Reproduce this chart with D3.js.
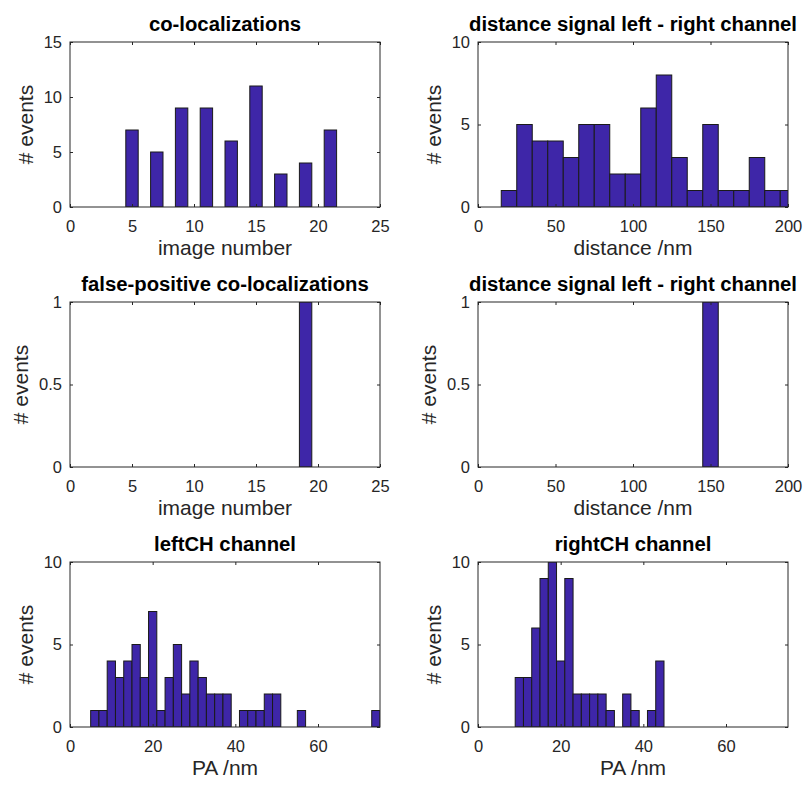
<!DOCTYPE html>
<html>
<head>
<meta charset="utf-8">
<script src="https://cdn.jsdelivr.net/npm/d3@7"></script>
<style>
	body { margin: 0; background: #fff; }
	svg { font-family: "Liberation Sans", Arial, Helvetica, sans-serif; }
	.tick text { fill: #262626; font-size: 16.5px; }
	.tick line { stroke: #262626; }
	.title { font-weight: bold; font-size: 20.3px; fill: #000; }
	.axisLabel { font-size: 21px; fill: #262626; }
</style>
</head>
<body>
<script>
(function(){

	//data
	var coloImages = [5, 7, 9, 11, 13, 15, 17, 19, 21];
	var coloCounts = [7, 5, 9, 9, 6, 11, 3, 4, 7];

	var distCenters = [20, 30, 40, 50, 60, 70, 80, 90, 100, 110, 120, 130, 140, 150, 160, 170, 180, 190, 200];
	var distCounts = [1, 5, 4, 4, 3, 5, 5, 2, 2, 6, 8, 3, 1, 5, 1, 1, 3, 1, 1];

	var fpImages = [19];
	var fpCounts = [1];

	var fpDistCenters = [150];
	var fpDistCounts = [1];

	var leftPACenters = [6, 8, 10, 12, 14, 16, 18, 20, 22, 24, 26, 28, 30, 32, 34, 36, 38, 40, 42, 44, 46, 48, 50, 52, 54, 56, 58, 60, 62, 64, 66, 68, 70, 72, 74];
	var leftPACounts = [1, 1, 4, 3, 4, 5, 3, 7, 1, 3, 5, 2, 4, 3, 2, 2, 2, 0, 1, 1, 1, 2, 2, 0, 0, 1, 0, 0, 0, 0, 0, 0, 0, 0, 1];

	var rightPACenters = [10, 12, 14, 16, 18, 20, 22, 24, 26, 28, 30, 32, 34, 36, 38, 40, 42, 44];
	var rightPACounts = [3, 3, 6, 9, 10, 4, 9, 2, 2, 2, 2, 1, 0, 2, 1, 0, 1, 4];

	//tick labels
	var imageTicks = [0, 5, 10, 15, 20, 25];
	var distTicks = [0, 50, 100, 150, 200];
	var paTicks = [0, 20, 40, 60];
	var countTicks15 = [0, 5, 10, 15];
	var countTicks10 = [0, 5, 10];
	var countTicks1 = [0, 0.5, 1];

	var barColor = "#3e26a8";
	var axisColor = "#262626";

	var panels = [
		{title: "co-localizations", xlabel: "image number", centers: coloImages, counts: coloCounts,
			binWidth: 1, xDomain: [0, 25], yDomain: [0, 15], xTicks: imageTicks, yTicks: countTicks15, col: 0, row: 0},
		{title: "distance signal left - right channel", xlabel: "distance /nm", centers: distCenters, counts: distCounts,
			binWidth: 10, xDomain: [0, 200], yDomain: [0, 10], xTicks: distTicks, yTicks: countTicks10, col: 1, row: 0},
		{title: "false-positive co-localizations", xlabel: "image number", centers: fpImages, counts: fpCounts,
			binWidth: 1, xDomain: [0, 25], yDomain: [0, 1], xTicks: imageTicks, yTicks: countTicks1, col: 0, row: 1},
		{title: "distance signal left - right channel", xlabel: "distance /nm", centers: fpDistCenters, counts: fpDistCounts,
			binWidth: 10, xDomain: [0, 200], yDomain: [0, 1], xTicks: distTicks, yTicks: countTicks1, col: 1, row: 1},
		{title: "leftCH channel", xlabel: "PA /nm", centers: leftPACenters, counts: leftPACounts,
			binWidth: 2, xDomain: [0, 75], yDomain: [0, 10], xTicks: paTicks, yTicks: countTicks10, col: 0, row: 2},
		{title: "rightCH channel", xlabel: "PA /nm", centers: rightPACenters, counts: rightPACounts,
			binWidth: 2, xDomain: [0, 75], yDomain: [0, 10], xTicks: paTicks, yTicks: countTicks10, col: 1, row: 2}
	];

	//axes frame layout
	var colLeft = [70, 478],
		rowTop = [42, 302, 562],
		axWidth = 310,
		axHeight = 165,
		tickLen = 3;

	var svg = d3.select("body")
		.append("svg")
		.attr("width", 804)
		.attr("height", 787);

	panels.forEach(function(p, i){
		drawPanel(p, i);
	});

	function drawPanel(p, i){
		var left = colLeft[p.col],
			top = rowTop[p.row];

		var g = svg.append("g")
			.attr("transform", "translate(" + left + "," + top + ")");

		var x = d3.scaleLinear().domain(p.xDomain).range([0, axWidth]);
		var y = d3.scaleLinear().domain(p.yDomain).range([axHeight, 0]);

		//clip bars to the axes box
		var clipId = "clip" + i;
		g.append("clipPath")
			.attr("id", clipId)
			.append("rect")
			.attr("width", axWidth)
			.attr("height", axHeight);

		var bins = p.centers.map(function(c, k){
			return {center: c, count: p.counts[k]};
		}).filter(function(d){ return d.count > 0; });

		g.append("g")
			.attr("clip-path", "url(#" + clipId + ")")
			.selectAll(".bar")
			.data(bins)
			.enter()
			.append("rect")
			.attr("class", "bar")
			.attr("x", function(d){ return x(d.center - p.binWidth / 2); })
			.attr("width", function(d){ return x(d.center + p.binWidth / 2) - x(d.center - p.binWidth / 2); })
			.attr("y", function(d){ return y(d.count); })
			.attr("height", function(d){ return y(0) - y(d.count); })
			.style("fill", barColor)
			.style("stroke", "#1a1a1a")
			.style("stroke-width", 1);

		var fmt = function(d){ return d3.format("~g")(d); };

		//bottom axis with inward ticks
		var xAxis = g.append("g")
			.attr("transform", "translate(0," + axHeight + ")")
			.call(d3.axisBottom(x).tickValues(p.xTicks).tickFormat(fmt)
				.tickSizeInner(-tickLen).tickSizeOuter(0).tickPadding(13.5));
		xAxis.select(".domain").remove();

		//top mirror ticks
		var xTop = g.append("g")
			.call(d3.axisTop(x).tickValues(p.xTicks).tickFormat("")
				.tickSizeInner(-tickLen).tickSizeOuter(0));
		xTop.select(".domain").remove();

		//left axis
		var yAxis = g.append("g")
			.call(d3.axisLeft(y).tickValues(p.yTicks).tickFormat(fmt)
				.tickSizeInner(-tickLen).tickSizeOuter(0).tickPadding(8));
		yAxis.select(".domain").remove();

		//right mirror ticks
		var yRight = g.append("g")
			.attr("transform", "translate(" + axWidth + ",0)")
			.call(d3.axisRight(y).tickValues(p.yTicks).tickFormat("")
				.tickSizeInner(-tickLen).tickSizeOuter(0));
		yRight.select(".domain").remove();

		g.selectAll(".tick text").attr("fill", axisColor);
		g.selectAll(".tick line").attr("stroke", axisColor);

		//axes box
		g.append("rect")
			.attr("width", axWidth)
			.attr("height", axHeight)
			.style("fill", "none")
			.style("stroke", axisColor)
			.style("stroke-width", 1);

		//title
		g.append("text")
			.attr("class", "title")
			.attr("x", axWidth / 2)
			.attr("y", -11)
			.attr("text-anchor", "middle")
			.text(p.title);

		//x label
		g.append("text")
			.attr("class", "axisLabel")
			.attr("x", axWidth / 2)
			.attr("y", axHeight + 48)
			.attr("text-anchor", "middle")
			.text(p.xlabel);

		//y label offset depends on widest tick label
		var maxW = 0;
		yAxis.selectAll(".tick text").each(function(){
			maxW = Math.max(maxW, this.getComputedTextLength());
		});
		g.append("text")
			.attr("class", "axisLabel")
			.attr("transform", "translate(" + (-(maxW + 8 + 11)) + "," + (axHeight / 2) + ") rotate(-90)")
			.attr("text-anchor", "middle")
			.text("# events");
	}
})();
</script>
</body>
</html>
